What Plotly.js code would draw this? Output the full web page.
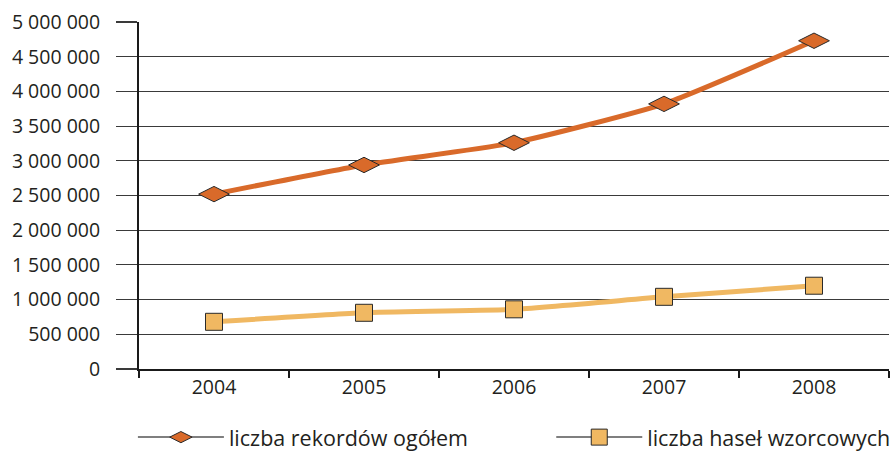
<!DOCTYPE html>
<html>
<head>
<meta charset="utf-8">
<script src="https://cdn.plot.ly/plotly-3.0.1.min.js"></script>
<style>
html,body{margin:0;padding:0;background:#fff;}
#chart{width:892px;height:453px;}
</style>
</head>
<body>
<div id="chart"></div>
<script>
const years = ['2004', '2005', '2006', '2007', '2008'];
const recordsTotal = [2520000, 2940000, 3260000, 3820000, 4730000];
const modelEntries = [680000, 810000, 860000, 1040000, 1200000];
const seriesNames = ['liczba rekordów ogółem', 'liczba haseł wzorcowych'];
const yTickVals = [0, 500000, 1000000, 1500000, 2000000, 2500000, 3000000, 3500000, 4000000, 4500000, 5000000];

const orange = '#D96A2A';
const yellow = '#F0B862';
const edge = '#2a2a2a';
const fam = '"Open Sans", "Noto Sans", sans-serif';
const tickFont = {family: fam, size: 19.5, color: '#231F20'};
const legendFont = {family: fam, size: 21.5, color: '#231F20'};

const nulls = years.map(() => null);

const traces = [
  {x: years, y: recordsTotal, name: seriesNames[0], type: 'scatter', mode: 'lines+markers',
   line: {color: orange, width: 5, shape: 'spline', smoothing: 0.5},
   marker: {symbol: 'diamond-wide', size: 22, color: orange, line: {color: edge, width: 1}},
   showlegend: false},
  {x: years, y: modelEntries, name: seriesNames[1], type: 'scatter', mode: 'lines+markers',
   line: {color: yellow, width: 5, shape: 'spline', smoothing: 0.5},
   marker: {symbol: 'square', size: 17, color: yellow, line: {color: edge, width: 1}},
   showlegend: false},
  {x: years, y: nulls, name: seriesNames[0], type: 'scatter', mode: 'lines+markers',
   line: {color: '#555', width: 1.5},
   marker: {symbol: 'diamond-wide', size: 22, color: orange, line: {color: edge, width: 1}},
   showlegend: true, legend: 'legend'},
  {x: years, y: nulls, name: seriesNames[1], type: 'scatter', mode: 'lines+markers',
   line: {color: '#555', width: 1.5},
   marker: {symbol: 'square', size: 17, color: yellow, line: {color: edge, width: 1}},
   showlegend: true, legend: 'legend2'}
];

const legendBase = {orientation: 'h', xanchor: 'left', xref: 'container', yref: 'container',
                    y: 0.035, yanchor: 'middle', itemwidth: 86, font: legendFont,
                    bgcolor: 'rgba(0,0,0,0)'};

const layout = {
  width: 892, height: 453,
  margin: {l: 139, r: 3, t: 22, b: 84},
  paper_bgcolor: '#fff', plot_bgcolor: '#fff',
  font: tickFont,
  separators: ', ',
  showlegend: true,
  legend: Object.assign({}, legendBase, {x: 0.149}),
  legend2: Object.assign({}, legendBase, {x: 0.618}),
  xaxis: {type: 'category', range: [-0.5, 4.5], showgrid: false, zeroline: false,
          showline: true, linecolor: '#1a1a1a', linewidth: 2,
          ticks: 'outside', tickson: 'boundaries', ticklen: 7, tickcolor: '#1a1a1a', tickwidth: 1.5,
          tickfont: tickFont, fixedrange: true},
  yaxis: {range: [0, 5000000], tickvals: yTickVals, tickformat: ',d',
          showgrid: true, gridcolor: '#3a3a3a', gridwidth: 1.2, zeroline: false,
          showline: true, linecolor: '#1a1a1a', linewidth: 2,
          ticks: 'outside', ticklen: 21, tickcolor: '#3a3a3a', tickwidth: 1.2,
          ticklabelstandoff: 12, tickfont: tickFont, fixedrange: true}
};

Plotly.newPlot('chart', traces, layout, {displayModeBar: false, staticPlot: true});
</script>
</body>
</html>
